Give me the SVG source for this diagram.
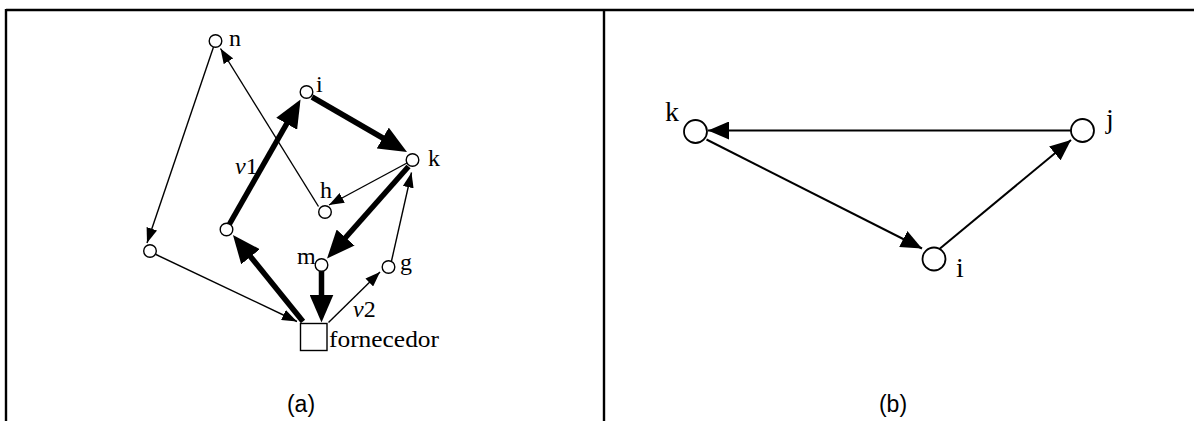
<svg xmlns="http://www.w3.org/2000/svg" width="1194" height="421" viewBox="0 0 1194 421">
  <style>
    .frame { stroke: #000; stroke-width: 2.4; fill: none; }
    .node { fill: #fff; stroke: #000; stroke-width: 1.4; }
    .bnode { fill: #fff; stroke: #000; stroke-width: 1.8; }
    .thin { stroke: #000; stroke-width: 1.4; fill: none; marker-end: url(#arrowThin); }
    .thick { stroke: #000; stroke-width: 5.5; fill: none; marker-end: url(#arrowThick); }
    .bedge { stroke: #000; stroke-width: 2; fill: none; marker-end: url(#arrowB); }
    .lbl { font-family: "Liberation Serif", "Times New Roman", serif; font-size: 24px; fill: #000; }
    .blbl { font-family: "Liberation Serif", "Times New Roman", serif; font-size: 28px; fill: #000; }
    .cap { font-family: "Liberation Sans", Arial, sans-serif; font-size: 23px; fill: #000; text-anchor: middle; }
  </style>
  <defs>
    <marker id="arrowThin" markerUnits="userSpaceOnUse" markerWidth="15" markerHeight="11" refX="15" refY="5.5" orient="auto">
      <path d="M0,0 L15,5.5 L0,11 z" fill="#000"/>
    </marker>
    <marker id="arrowThick" markerUnits="userSpaceOnUse" markerWidth="28" markerHeight="24" refX="16" refY="12" orient="auto">
      <path d="M0,0 L28,12 L0,24 z" fill="#000"/>
    </marker>
    <marker id="arrowB" markerUnits="userSpaceOnUse" markerWidth="21" markerHeight="18" refX="21" refY="9" orient="auto">
      <path d="M0,0 L21,9 L0,18 z" fill="#000"/>
    </marker>
  </defs>

  <!-- table frame -->
  <g id="frame">
    <line class="frame" x1="6" y1="10" x2="1194" y2="10"/>
    <line class="frame" x1="6" y1="9" x2="6" y2="421"/>
    <line class="frame" x1="604" y1="10" x2="604" y2="421"/>
  </g>

  <!-- connectors, panel (a) and (b) -->
  <g id="connectors">
    <line class="thin" x1="213.5" y1="47" x2="147" y2="243"/>
    <line class="thin" x1="318.5" y1="206.5" x2="220.5" y2="48.5"/>
    <line class="thin" x1="156" y1="254.5" x2="297" y2="321.5"/>
    <line class="thin" x1="407" y1="163" x2="329" y2="205"/>
    <line class="thin" x1="328.5" y1="322.5" x2="380" y2="272"/>
    <line class="thin" x1="391.5" y1="261" x2="411.5" y2="172.5"/>
    <line class="thick" x1="303" y1="321.5" x2="240.5" y2="244.3"/>
    <line class="thick" x1="229.5" y1="224" x2="294.6" y2="109.9"/>
    <line class="thick" x1="312" y1="97" x2="396.6" y2="146"/>
    <line class="thick" x1="408.5" y1="166.5" x2="335" y2="249.5"/>
    <line class="thick" x1="321.5" y1="271" x2="321.5" y2="310.5"/>

    <line class="bedge" x1="1071" y1="130.5" x2="708" y2="130.5"/>
    <line class="bedge" x1="706.5" y1="139.5" x2="922" y2="248.5"/>
    <line class="bedge" x1="940" y1="248.5" x2="1071" y2="140"/>
  </g>

  <!-- panel (a) nodes -->
  <g id="node-n">
    <circle class="node" cx="215.5" cy="41" r="6.3"/>
    <text class="lbl" x="229" y="46">n</text>
  </g>
  <g id="node-i">
    <circle class="node" cx="306.5" cy="92" r="6.3"/>
    <text class="lbl" x="316" y="92">i</text>
  </g>
  <g id="node-k">
    <circle class="node" cx="412.5" cy="160" r="6.3"/>
    <text class="lbl" x="428" y="166">k</text>
  </g>
  <g id="node-h">
    <circle class="node" cx="325" cy="212" r="6.3"/>
    <text class="lbl" x="320" y="198">h</text>
  </g>
  <g id="node-v1start">
    <circle class="node" cx="226.5" cy="229.5" r="6.3"/>
  </g>
  <g id="node-left">
    <circle class="node" cx="150" cy="251" r="6.3"/>
  </g>
  <g id="node-m">
    <circle class="node" cx="321.5" cy="265" r="6.3"/>
    <text class="lbl" x="297" y="264">m</text>
  </g>
  <g id="node-g">
    <circle class="node" cx="388.5" cy="267" r="6.3"/>
    <text class="lbl" x="400" y="270">g</text>
  </g>
  <g id="node-fornecedor">
    <rect class="node" x="300.5" y="323.5" width="26.5" height="27"/>
    <text class="lbl" x="329" y="347" textLength="110" lengthAdjust="spacingAndGlyphs">fornecedor</text>
  </g>
  <g id="edge-labels">
    <text class="lbl" x="235" y="174"><tspan font-style="italic">v</tspan>1</text>
    <text class="lbl" x="353" y="317"><tspan font-style="italic">v</tspan>2</text>
  </g>
  <text class="cap" x="301" y="412">(a)</text>

  <!-- panel (b) nodes -->
  <g id="b-node-k">
    <circle class="bnode" cx="695.5" cy="131.5" r="11.5"/>
    <text class="blbl" x="665" y="121">k</text>
  </g>
  <g id="b-node-j">
    <circle class="bnode" cx="1082.5" cy="130.5" r="11.5"/>
    <text class="blbl" x="1106" y="128">j</text>
  </g>
  <g id="b-node-i">
    <circle class="bnode" cx="934" cy="259" r="11.5"/>
    <text class="blbl" x="956" y="277">i</text>
  </g>
  <text class="cap" x="893" y="412">(b)</text>
</svg>
